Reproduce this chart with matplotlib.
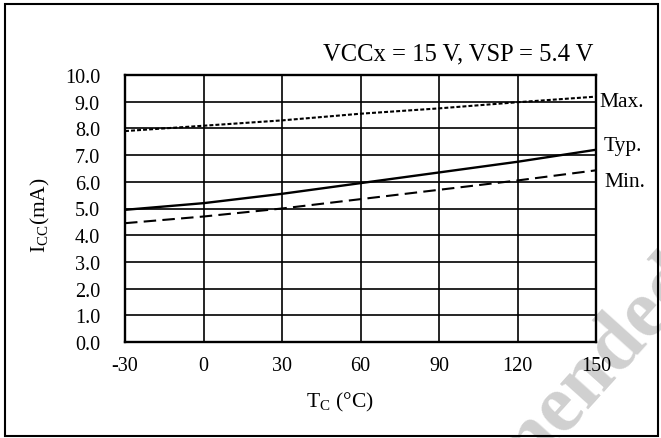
import numpy as np
import matplotlib.pyplot as plt
from matplotlib.patches import Rectangle

plt.rcParams['font.family'] = ['Liberation Serif', 'DejaVu Serif']
plt.rcParams['mathtext.fontset'] = 'custom'
plt.rcParams['mathtext.rm'] = 'Liberation Serif'
plt.rcParams['axes.unicode_minus'] = False

# Data
temp_c = [-30, 0, 30, 60, 90, 120, 150]
icc_max = [7.90, 8.10, 8.30, 8.55, 8.75, 8.98, 9.19]
icc_typ = [4.95, 5.20, 5.55, 5.95, 6.35, 6.75, 7.20]
icc_min = [4.45, 4.70, 5.00, 5.35, 5.70, 6.05, 6.43]
x_ticks = [-30, 0, 30, 60, 90, 120, 150]
y_ticks = np.arange(0, 10.01, 1.0)

fig = plt.figure(figsize=(6.61, 4.39), dpi=100)
W, H = 661, 439
ax = fig.add_axes([125 / W, 1 - 343 / H, (596 - 125) / W, (343 - 76) / H])
ax.set_facecolor('none')

ax.plot(temp_c, icc_max, color='black', lw=1.5, dashes=(1.9, 1.0))
ax.plot(temp_c, icc_typ, color='black', lw=1.7)
ax.plot(temp_c, icc_min, color='black', lw=1.5, dashes=(6, 3))

ax.set_xlim(-30, 150)
ax.set_ylim(0, 10)
ax.set_xticks(x_ticks)
ax.set_yticks(y_ticks)
ax.set_yticklabels([f'{v:.1f}' for v in y_ticks])
ax.grid(True, color='black', lw=1.2)
ax.tick_params(length=0, labelsize=14.5, colors='black')
ax.tick_params(axis='y', pad=18)
ax.tick_params(axis='x', pad=10)
for s in ax.spines.values():
    s.set_linewidth(1.7)

fs = 15.5
ytr = ax.get_yaxis_transform()
ax.text(1.008, 8.84, 'Max.', transform=ytr, fontsize=fs, va='baseline', ha='left')
ax.text(1.017, 7.19, 'Typ.', transform=ytr, fontsize=fs, va='baseline', ha='left')
ax.text(1.017, 5.84, 'Min.', transform=ytr, fontsize=fs, va='baseline', ha='left')

fig.text(593 / W, 1 - 54 / H, 'VCCx = 15 V, VSP = 5.4 V', fontsize=17.7, ha='right', va='center')
fig.text(340 / W, 1 - 402 / H, r'T$_\mathregular{C}$ (°C)', fontsize=15.5, ha='center', va='center')
fig.text(40 / W, 1 - 215 / H, r'I$_\mathregular{CC}$(mA)', fontsize=15.5, ha='center', va='center', rotation=90)

# watermark, only its tail shows in the corner
fig.text(356 / W, 1 - 666 / H, 'Recommended', fontsize=59, color='#d0d0d0', fontweight='bold',
         rotation=48, ha='left', va='baseline', zorder=-1, rotation_mode='anchor')

fig.patches.append(Rectangle((5 / W, 2 / H), 653 / W, 432 / H, transform=fig.transFigure,
                             fill=False, edgecolor='black', lw=1.5))

fig.savefig('out.png', dpi=100)
